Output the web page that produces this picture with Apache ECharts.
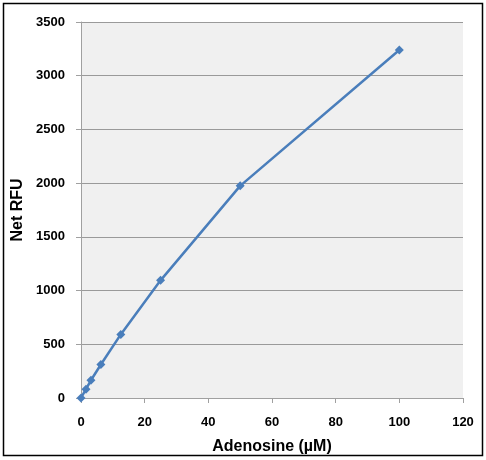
<!DOCTYPE html>
<html><head><meta charset="utf-8">
<script src="https://cdn.jsdelivr.net/npm/echarts@6/dist/echarts.min.js"></script>
<style>html,body{margin:0;padding:0;background:#fff}#c{width:486px;height:460px}</style>
</head><body><div id="c"></div>
<script>
const concentrations = [0, 1.5625, 3.125, 6.25, 12.5, 25, 50, 100];
const netRFU = [0, 82, 165, 312, 592, 1095, 1975, 3240];
const xTitle = 'Adenosine (\u00B5M)';
const yTitle = 'Net RFU';

const chart = echarts.init(document.getElementById('c'));
const font = '"Liberation Sans", Arial, sans-serif';
chart.setOption({
  animation: false,
  backgroundColor: '#fff',
  graphic: [{type:'rect', shape:{x:3.5,y:3.5,width:479,height:452}, style:{fill:'none', stroke:'#000', lineWidth:1.5}, z:-1}],
  grid: {left:81, right:23, top:22, bottom:62, show:true, backgroundColor:'#F0F0F0', borderWidth:0},
  xAxis: {
    type:'value', min:0, max:120, interval:20,
    name: xTitle, nameLocation:'middle', nameGap:41,
    nameTextStyle:{fontFamily:font, fontWeight:'bold', fontSize:16, color:'#000'},
    axisLine:{show:true, lineStyle:{color:'#A0A0A0'}},
    axisTick:{show:true, length:5, lineStyle:{color:'#A0A0A0'}},
    axisLabel:{fontFamily:font, fontWeight:'bold', fontSize:13, color:'#000', margin:18},
    splitLine:{show:false}
  },
  yAxis: {
    type:'value', min:0, max:3500, interval:500,
    name: yTitle, nameLocation:'middle', nameGap:45,
    nameTextStyle:{fontFamily:font, fontWeight:'bold', fontSize:16, color:'#000'},
    axisLine:{show:true, lineStyle:{color:'#A0A0A0'}},
    axisTick:{show:true, length:5, lineStyle:{color:'#A0A0A0'}},
    axisLabel:{fontFamily:font, fontWeight:'bold', fontSize:13, color:'#000', margin:16, formatter: v => String(v)},
    splitLine:{show:true, lineStyle:{color:'#9A9A9A', width:1}}
  },
  series: [{
    type:'line',
    data: concentrations.map((x,i)=>[x, netRFU[i]]),
    symbol:'diamond', symbolSize:9,
    lineStyle:{color:'#4A7EBB', width:2.5},
    itemStyle:{color:'#4A7EBB'}
  }]
});
</script></body></html>
